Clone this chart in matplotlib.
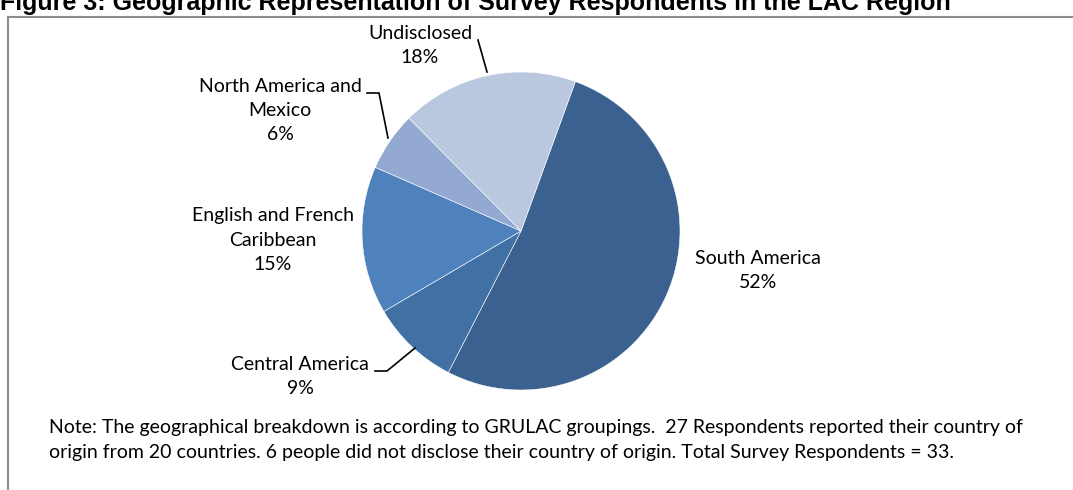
import matplotlib
matplotlib.use("Agg")
import matplotlib.pyplot as plt
from matplotlib.lines import Line2D

# ---- data ----
categories = ["South America", "Central America", "English and French\nCaribbean",
              "North America and\nMexico", "Undisclosed"]
percent = [52, 9, 15, 6, 18]
colors = ["#3A6190", "#4170A5", "#4F81BD", "#93A9D1", "#B9C7DF"]
title = "Figure 3: Geographic Representation of Survey Respondents in the LAC Region"
note = ("Note: The geographical breakdown is according to GRULAC groupings.  27 Respondents reported their country of\n"
        "origin from 20 countries. 6 people did not disclose their country of origin. Total Survey Respondents = 33.")

W, H = 1073, 490
fig = plt.figure(figsize=(W / 100, H / 100), dpi=100)
fig.patch.set_facecolor("white")

FONT = "Lato"
FS = 14

# pie axes: center (521,231) px, radius 159 px
cx, cy, r = 521, 231, 159
ax = fig.add_axes([(cx - r) / W, 1 - (cy + r) / H, 2 * r / W, 2 * r / H])
ax.pie(percent, colors=colors, startangle=70, counterclock=False,
       wedgeprops=dict(edgecolor="white", linewidth=0.4))
ax.set_xlim(-1, 1)
ax.set_ylim(-1, 1)
ax.set_aspect("auto")
ax.axis("off")

def d(px, py):
    return ((px - cx) / r, (cy - py) / r)

label_pos = [(758, 270), (300, 377), (273, 240), (280, 111), (420, 46)]
for cat, p, (lx, ly) in zip(categories, percent, label_pos):
    x, y = d(lx, ly)
    ax.text(x, y, f"{cat}\n{p}%", ha="center", va="center", fontsize=FS,
            family=FONT, color="black", linespacing=1.5, clip_on=False)

leaders = [
    [(478, 40), (487, 72)],
    [(367, 93), (379, 93), (388, 138)],
    [(375, 371), (387, 371), (415, 348)],
]
for pts in leaders:
    xs, ys = zip(*[d(*p) for p in pts])
    ax.add_line(Line2D(xs, ys, color="black", lw=1.2, clip_on=False))

# frame (top and left borders)
fig.add_artist(Line2D([8 / W, 1], [1 - 17 / H, 1 - 17 / H], transform=fig.transFigure,
                      color="#8C8C8C", lw=1.5))
fig.add_artist(Line2D([8 / W, 8 / W], [1 - 17 / H, 0], transform=fig.transFigure,
                      color="#8C8C8C", lw=1.5))

# title (clipped at top)
fig.text(0.0, 1 - 10 / H, title, ha="left", va="baseline", fontsize=18,
         fontweight="bold", family="Liberation Sans", color="black")

# note
fig.text(49 / W, 1 - 440 / H, note, ha="left", va="center", fontsize=FS,
         family=FONT, color="black", linespacing=1.55)

fig.savefig("out.png", dpi=100, facecolor="white")
